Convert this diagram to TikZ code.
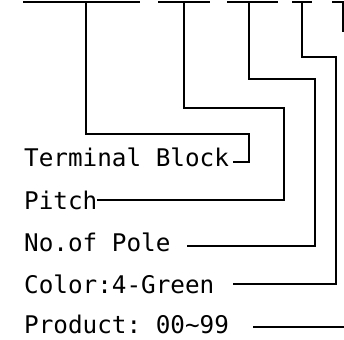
\documentclass[tikz,border=0pt]{standalone}
\usepackage{fontspec}
\setmonofont{DejaVu Sans Mono}
\usetikzlibrary{positioning}

\begin{document}
\begin{tikzpicture}[
        x=1pt, y=-1pt,
        lbl/.style={anchor=base west, inner sep=0pt, font=\ttfamily\fontsize{24.3}{28}\selectfont},
        bar/.style={line width=1.7pt},
        lead/.style={line width=1.3pt}
    ]
        \useasboundingbox (0,0) rectangle (344,339);

        % Code bars along the top
        \draw[bar] (23,2) -- (140,2);
        \draw[bar] (158,2) -- (210,2);
        \draw[bar] (227,2) -- (278,2);
        \draw[bar] (292,2) -- (312,2);
        \draw[bar] (332,2) -- (345,2);

        % Taps under the bars
        \coordinate (tap1) at (86,2);
        \coordinate (tap2) at (184,2);
        \coordinate (tap3) at (249,2);
        \coordinate (tap4) at (302,2);
        \coordinate (tap5) at (343,2);

        % Labels
        \node[lbl] (tb) at (24,166) {Terminal Block};
        \node[lbl] (pitch) at (24,209) {Pitch};
        \node[lbl] (pole) at (24,251) {No.of Pole};
        \node[lbl] (color) at (24,293) {Color:4-Green};
        \node[lbl] (prod) at (24,333) {Product: 00\textasciitilde 99};

        % Ends of the leaders
        \coordinate (tbend) at (233,162);
        \coordinate (pitchend) at (97,200);
        \coordinate (poleend) at (187,246);
        \coordinate (colorend) at (233,284);
        \coordinate (prodend) at (253,327);

        % Leaders
        \draw[lead] (tap1) |- (249,134) |- (tbend);
        \draw[lead] (tap2) |- (284,108) |- (pitchend);
        \draw[lead] (tap3) |- (315,79) |- (poleend);
        \draw[lead] (tap4) |- (336,57) |- (colorend);
        \draw[lead] (tap5) -- (343,32);
        \draw[lead] (prodend) -- (345,327);
    \end{tikzpicture}
\end{document}
